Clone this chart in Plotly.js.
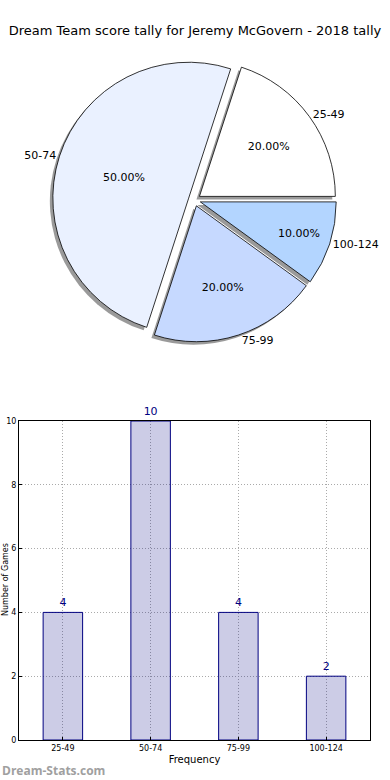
<!DOCTYPE html>
<html>
<head>
<meta charset="utf-8">
<script src="https://cdn.plot.ly/plotly-3.0.1.min.js"></script>
<style>html,body{margin:0;padding:0;background:#fff;}#chart{width:390px;height:780px;}</style>
</head>
<body>
<div id="chart"></div>
<script>
// ---- data ----
var categories = ["25-49", "50-74", "75-99", "100-124"];
var counts = [4, 10, 4, 2];
var pieColors = ["#ffffff", "#eaf1ff", "#c6d9ff", "#b3d5ff"];
var titleText = "Dream Team score tally for Jeremy McGovern - 2018 tally";
var xTitle = "Frequency";
var yTitle = "Number of Games";
var yTicks = [0, 2, 4, 6, 8, 10];

var W = 390, H = 780;
function px(x){return x / W;}
function py(y){return 1 - y / H;}

var pull = [0.045, 0.045, 0.045, 0.045];
var cx = 194.5, cy = 200, half = 142;
var font = "DejaVu Sans, sans-serif";
var rot = 18;

var shadow = {
  type: "pie", labels: categories, values: counts, sort: false,
  direction: "counterclockwise", rotation: rot, pull: pull,
  marker: {colors: categories.map(function(){return "rgba(120,120,120,0.75)";}), line: {width: 0}},
  textinfo: "none", hoverinfo: "skip", showlegend: false,
  domain: {x: [px(cx - half - 3), px(cx + half - 3)], y: [py(cy + half + 3), py(cy - half + 3)]}
};
var pie = {
  type: "pie", labels: categories, values: counts, sort: false,
  direction: "counterclockwise", rotation: rot, pull: pull,
  marker: {colors: pieColors, line: {color: "#000000", width: 0.8}},
  texttemplate: "%{percent:.2%}", textposition: "inside", insidetextorientation: "horizontal",
  textfont: {family: font, size: 11, color: "#000000"},
  showlegend: false,
  domain: {x: [px(cx - half), px(cx + half)], y: [py(cy + half), py(cy - half)]}
};
var pieLabels = {
  type: "pie", labels: categories, values: counts, sort: false,
  direction: "counterclockwise", rotation: rot, pull: pull,
  marker: {colors: categories.map(function(){return "rgba(0,0,0,0)";}), line: {width: 0}},
  texttemplate: "%{label}", textposition: "outside", automargin: false,
  outsidetextfont: {family: font, size: 11, color: "#000000"},
  hoverinfo: "skip", showlegend: false,
  domain: {x: [px(cx - half), px(cx + half)], y: [py(cy + half), py(cy - half)]}
};
var bars = {
  type: "bar", x: categories, y: counts, xaxis: "x", yaxis: "y",
  width: 0.45,
  marker: {color: "rgba(0,0,128,0.2)", line: {color: "#000080", width: 1}},
  text: counts.map(String), textposition: "outside", cliponaxis: false,
  textfont: {family: font, size: 11, color: "#000080"},
  showlegend: false
};

var layout = {
  width: W, height: H,
  margin: {l: 0, r: 0, t: 0, b: 0},
  paper_bgcolor: "#ffffff", plot_bgcolor: "#ffffff",
  font: {family: font, color: "#000000"},
  title: {text: titleText, font: {family: font, size: 13, color: "#000000"},
          x: 0.5, xanchor: "center", y: py(30), yanchor: "middle", yref: "container"},
  xaxis: {
    domain: [px(19), px(370)], anchor: "y",
    type: "category", range: [-0.5, 3.5],
    showline: true, linecolor: "#000000", linewidth: 1, mirror: true,
    showgrid: true, gridcolor: "#aaaaaa", griddash: "1px,2px", gridwidth: 1,
    ticks: "inside", ticklen: 3, tickcolor: "#000000",
    tickfont: {family: font, size: 8, color: "#000000"},
    title: {text: xTitle, font: {family: font, size: 10, color: "#000000"}, standoff: 4},
    fixedrange: true
  },
  yaxis: {
    domain: [py(740), py(421)], anchor: "x",
    range: [0, 10], tickvals: yTicks, ticktext: yTicks.map(String),
    showline: true, linecolor: "#000000", linewidth: 1, mirror: true,
    showgrid: true, gridcolor: "#aaaaaa", griddash: "1px,2px", gridwidth: 1, zeroline: false,
    ticks: "inside", ticklen: 3, tickcolor: "#000000",
    tickfont: {family: font, size: 8, color: "#000000"},
    fixedrange: true
  },
  annotations: [{
    text: yTitle, xref: "paper", yref: "paper", x: px(5), y: py(580),
    xanchor: "center", yanchor: "middle", textangle: -90, showarrow: false,
    font: {family: font, size: 8, color: "#000000"}
  }, {
    text: "Dream-Stats.com", xref: "paper", yref: "paper", x: 0, y: py(770),
    xanchor: "left", yanchor: "middle", showarrow: false,
    font: {family: "Open Sans, sans-serif", size: 12, color: "#a0a0a0", weight: "bold"}
  }]
};

Plotly.newPlot("chart", [shadow, pie, pieLabels, bars], layout, {displayModeBar: false, staticPlot: true});
</script>
</body>
</html>
